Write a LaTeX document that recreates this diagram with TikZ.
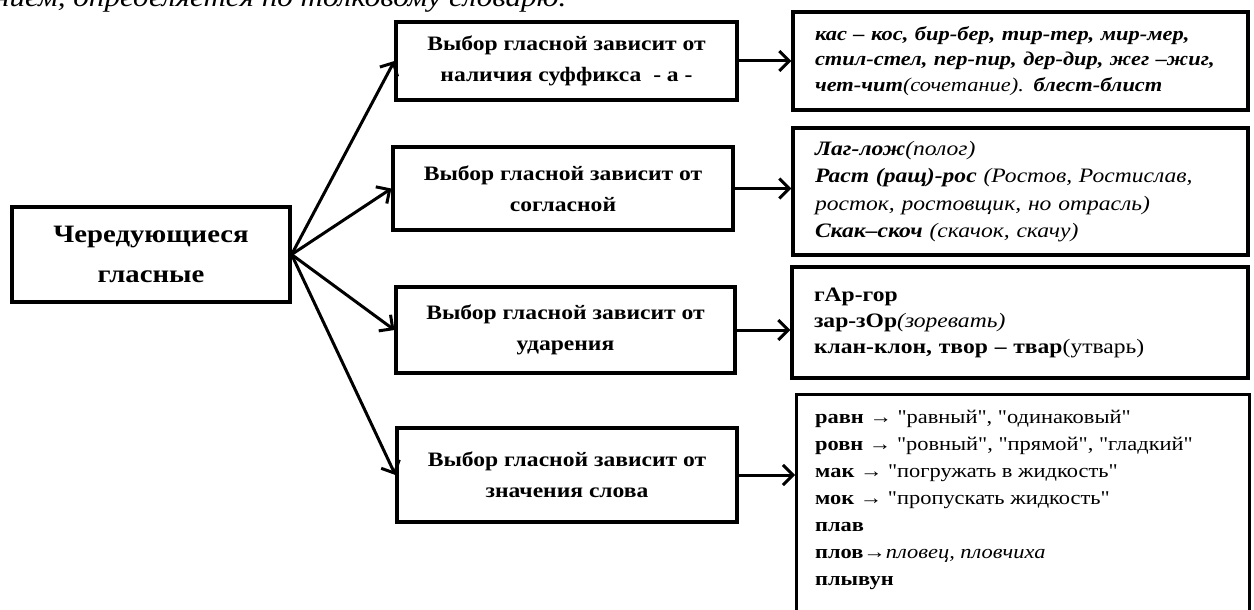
\documentclass[tikz,border=0pt]{standalone}
\usepackage{fontspec}
\setmainfont{Liberation Serif}[FakeStretch=1.15]
\newfontfamily\qfont{Liberation Serif}[FakeStretch=1.15]
\usetikzlibrary{arrows.meta}
\newcommand\qt{{\qfont\char"22}}
\tikzset{
  box/.style={draw, line width=3.2pt, align=center, inner sep=0pt,
    font=\bfseries\fontsize{20.5}{31}\selectfont},
  listbox/.style={draw, line width=3.2pt, align=left, inner xsep=22pt, inner ysep=0pt},
  arr/.style={line width=3pt, -{Straight Barb[length=10pt,width=20pt]}},
}
\begin{document}
\begin{tikzpicture}[x=1pt,y=-1pt]
\useasboundingbox (0,0) rectangle (1254,610);
% line of the page above, cut by the top edge
\node[anchor=base west, inner sep=0pt, font=\itshape\fontsize{27}{30}\selectfont] (pagetext) at (-6,7) {нием, определяется по толковому словарю.};
% root
\node[box, minimum width=278, minimum height=95, font=\bfseries\fontsize{25}{40}\selectfont] (main) at (151,254.5) {Чередующиеся\\гласные};
% middle column
\node[box, minimum width=341, minimum height=78] (b1) at (566.5,61) {Выбор гласной зависит от\\наличия суффикса\ \ - а -};
\node[box, minimum width=340, minimum height=83] (b2) at (563,188.5) {Выбор гласной зависит от\\согласной};
\node[box, minimum width=339, minimum height=86] (b3) at (565.5,330) {Выбор гласной зависит от\\ударения};
\node[box, minimum width=340, minimum height=94] (b4) at (567,475) {Выбор гласной зависит от\\значения слова};
% right column
\node[listbox, text width=411, minimum height=98, font=\bfseries\itshape\fontsize{19.5}{25.5}\selectfont] (r1) at (1020.5,61)
  {\mbox{кас – кос, бир-бер, тир-тер, мир-мер,}\\\mbox{стил-стел, пер-пир, дер-дир, жег –жиг,}\\\mbox{чет-чит{\mdseries(сочетание).} блест-блист}};
\node[listbox, text width=411, minimum height=127, font=\bfseries\itshape\fontsize{20.5}{27.5}\selectfont] (r2) at (1020.5,191.5)
  {Лаг-лож{\mdseries(полог)}\\Раст (ращ)-рос {\mdseries(Ростов, Ростислав,}\\{\mdseries росток, ростовщик, но отрасль)}\\Скак–скоч {\mdseries(скачок, скачу)}};
\node[listbox, text width=412, minimum height=111, font=\bfseries\fontsize{20.5}{26}\selectfont] (r3) at (1020,322.5)
  {гАр-гор\\зар-зОр{\mdseries\itshape(зоревать)}\\клан-клон, твор – твар{\mdseries(утварь)}};
\node[draw, line width=3.2pt, inner sep=0pt, minimum width=453, minimum height=260, anchor=north west] (r4) at (795,393) {};
\node[anchor=north west, inner sep=0pt, align=left, font=\bfseries\fontsize{19.5}{27}\selectfont] (r4text) at (815,410)
  {равн {\mdseries → \qt равный\qt, \qt одинаковый\qt}\\ровн {\mdseries → \qt ровный\qt, \qt прямой\qt, \qt гладкий\qt}\\мак {\mdseries → \qt погружать в жидкость\qt}\\мок {\mdseries → \qt пропускать жидкость\qt}\\плав\\плов{\mdseries→\itshape пловец, пловчиха}\\плывун};
% arrows
\foreach \n in {b1,b2,b3,b4} % root to middle
  \draw[arr] (main.east) -- (\n.west);
\foreach \n/\m in {b1/r1,b2/r2,b3/r3,b4/r4} % middle to right
  \draw[arr] (\n.east) -- (\n.east -| \m.west);
\end{tikzpicture}
\end{document}
